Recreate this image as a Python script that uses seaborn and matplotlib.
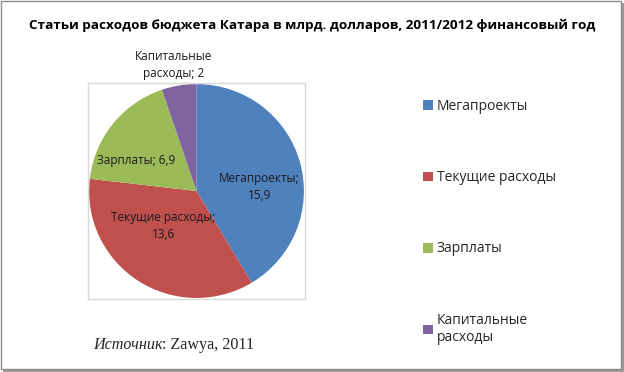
import matplotlib
matplotlib.use("Agg")
import matplotlib.pyplot as plt
import seaborn as sns
import numpy as np
from matplotlib.patches import Rectangle, Patch

categories = ["Мегапроекты", "Текущие расходы", "Зарплаты", "Капитальные\nрасходы"]
values = [15.9, 13.6, 6.9, 2]
value_labels = ["15,9", "13,6", "6,9", "2"]
title = "Статьи расходов бюджета Катара в млрд. долларов, 2011/2012 финансовый год"
colors = ["#4F81BD", "#C0504D", "#9BBB59", "#8064A2"]

sns.set_theme(style="white")
FONT = ["Open Sans", "DejaVu Sans"]
plt.rcParams["font.family"] = FONT

W, H = 624, 372
fig = plt.figure(figsize=(W / 100, H / 100), dpi=100)
fig.patch.set_facecolor("white")

# outer frame with shadow
fig.patches.append(Rectangle((3 / W, 0), 1 - 3 / W, 1 - 3 / H, transform=fig.transFigure,
                             facecolor="#9A9A9A", edgecolor="none", zorder=-3))
fig.patches.append(Rectangle((1 / W, 3 / H), 1 - 4 / W, 1 - 4 / H, transform=fig.transFigure,
                             facecolor="white", edgecolor="#8C8C8C", linewidth=1, zorder=-2))

# plot area
ax = fig.add_axes([88 / W, 1 - 299 / H, 217 / W, 216 / H])
ax.set_zorder(2)
wedges, _ = ax.pie(values, colors=colors, startangle=90, counterclock=False,
                   wedgeprops=dict(linewidth=0))
ax.set_xlim(-1.01, 1.01)
ax.set_ylim(-1.01, 1.01)
ax.set_aspect("auto")
ax.set_facecolor("white")
ax.set_frame_on(True)
for s in ax.spines.values():
    s.set_visible(True)
    s.set_color("#D9D9D9")
    s.set_linewidth(1)

# data labels (Excel "best fit" placement: radius fraction and angle offset per slice)
label_texts = [
    f"{categories[0]};\n{value_labels[0]}",
    f"{categories[1]};\n{value_labels[1]}",
    f"{categories[2]}; {value_labels[2]}",
    f"{categories[3]}; {value_labels[3]}",
]
label_polar = [(0.585, -12), (0.45, -11), (0.63, 12), (1.2, 1)]
for w, txt, (r, dang) in zip(wedges, label_texts, label_polar):
    ang = np.deg2rad((w.theta1 + w.theta2) / 2 + dang)
    ax.text(r * np.cos(ang), r * np.sin(ang), txt, ha="center", va="center",
            fontsize=8.5, color="#1A1A1A", linespacing=1.4, clip_on=False)

fig.text(312 / W, 1 - 25 / H, title, ha="center", va="center",
         fontsize=9.7, fontweight="bold", color="black")

handles = [Patch(facecolor=c, edgecolor="none") for c in colors]
leg = fig.legend(handles, categories, loc="upper left", bbox_to_anchor=(423 / W, 1 - 99 / H),
                 frameon=False, fontsize=10, labelspacing=4.05, handlelength=0.7,
                 handleheight=0.7, handletextpad=0.3, borderaxespad=0, borderpad=0)

fig.canvas.draw()
t1 = fig.text(93 / W, 1 - 345 / H, "Источник", fontsize=11.6, fontstyle="italic",
              family=["Liberation Serif"], va="center", ha="left")
fig.canvas.draw()
bb = t1.get_window_extent()
fig.text(bb.x1 / W, 1 - 345 / H, ": Zawya, 2011", fontsize=11.6,
         family=["Liberation Serif"], va="center", ha="left")

fig.savefig("out.png", dpi=100)
